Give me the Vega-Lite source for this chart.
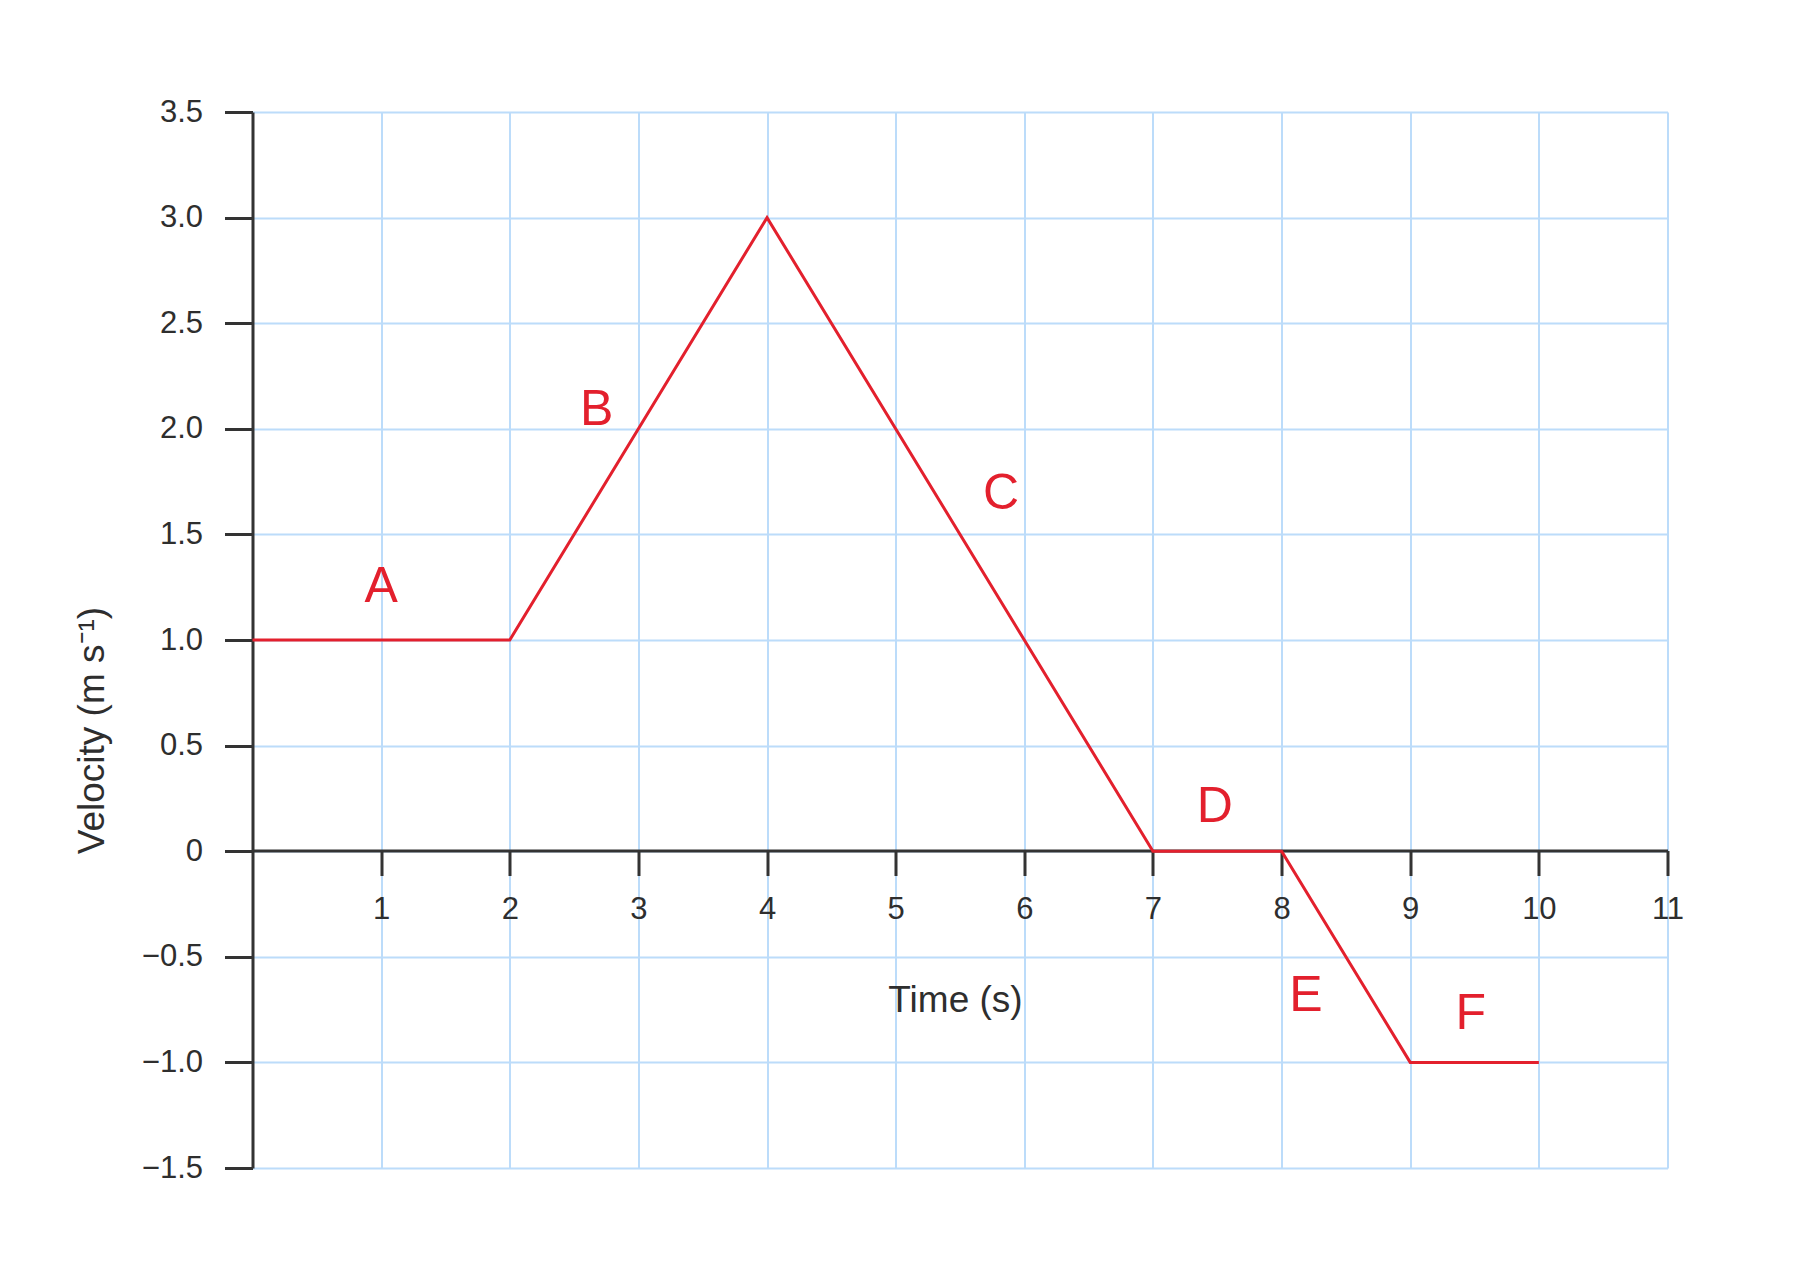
{
  "$schema": "https://vega.github.io/schema/vega-lite/v6.json",
  "width": 1415,
  "height": 1056,
  "autosize": {"type": "none"},
  "padding": {"left": 252.5, "top": 112, "right": 146.5, "bottom": 114},
  "background": "white",
  "config": {"view": {"stroke": null}, "font": "Liberation Sans"},
  "layer": [
    {
      "data": {"values": [
        {"t": 0, "v": 1},
        {"t": 2, "v": 1},
        {"t": 4, "v": 3},
        {"t": 7, "v": 0},
        {"t": 8, "v": 0},
        {"t": 9, "v": -1},
        {"t": 10, "v": -1}
      ]},
      "mark": {"type": "line", "color": "#e3202d", "strokeWidth": 3},
      "encoding": {
        "x": {
          "field": "t", "type": "quantitative",
          "scale": {"domain": [0, 11], "nice": false, "zero": false},
          "axis": {
            "values": [1, 2, 3, 4, 5, 6, 7, 8, 9, 10, 11],
            "format": "d",
            "offset": -317.5,
            "domainColor": "#333333", "domainWidth": 3,
            "tickColor": "#333333", "tickWidth": 3, "tickSize": 25,
            "labelFontSize": 31, "labelColor": "#2e2e2e", "labelPadding": 19,
            "labelFont": "Liberation Sans", "labelFlush": false, "labelOverlap": false,
            "grid": true, "gridColor": "#bcdcfa", "gridWidth": 2, "gridOpacity": 1,
            "title": "Time (s)", "titleFontSize": 37, "titleFontWeight": "normal",
            "titleColor": "#2e2e2e", "titleFont": "Liberation Sans",
            "titleY": 161, "titleX": 702.5, "titleBaseline": "alphabetic", "titleAlign": "center"
          }
        },
        "y": {
          "field": "v", "type": "quantitative",
          "scale": {"domain": [-1.5, 3.5], "nice": false, "zero": false},
          "axis": {
            "values": [-1.5, -1, -0.5, 0, 0.5, 1, 1.5, 2, 2.5, 3, 3.5],
            "labelExpr": "datum.value == 0 ? '0' : format(datum.value, '.1f')",
            "domainColor": "#333333", "domainWidth": 3,
            "tickColor": "#333333", "tickWidth": 3, "tickSize": 28,
            "labelFontSize": 31, "labelColor": "#2e2e2e", "labelPadding": 22,
            "labelFont": "Liberation Sans", "labelOverlap": false, "labelFlush": false,
            "grid": true, "gridColor": "#bcdcfa", "gridWidth": 2, "gridOpacity": 1,
            "title": "Velocity (m s⁻¹)", "titleFontSize": 37, "titleFontWeight": "normal",
            "titleColor": "#2e2e2e", "titleFont": "Liberation Sans",
            "titleAngle": 270, "titleX": -149.5, "titleY": 618,
            "titleBaseline": "alphabetic", "titleAlign": "center"
          }
        }
      }
    },
    {
      "data": {"values": [
        {"label": "A", "x": 1.0, "y": 1.25},
        {"label": "B", "x": 2.675, "y": 2.09},
        {"label": "C", "x": 5.82, "y": 1.69},
        {"label": "D", "x": 7.48, "y": 0.21},
        {"label": "E", "x": 8.19, "y": -0.684},
        {"label": "F", "x": 9.47, "y": -0.77}
      ]},
      "mark": {"type": "text", "fontSize": 50, "color": "#e3202d", "font": "Liberation Sans", "baseline": "middle", "align": "center"},
      "encoding": {
        "x": {"field": "x", "type": "quantitative"},
        "y": {"field": "y", "type": "quantitative"},
        "text": {"field": "label"}
      }
    }
  ]
}
